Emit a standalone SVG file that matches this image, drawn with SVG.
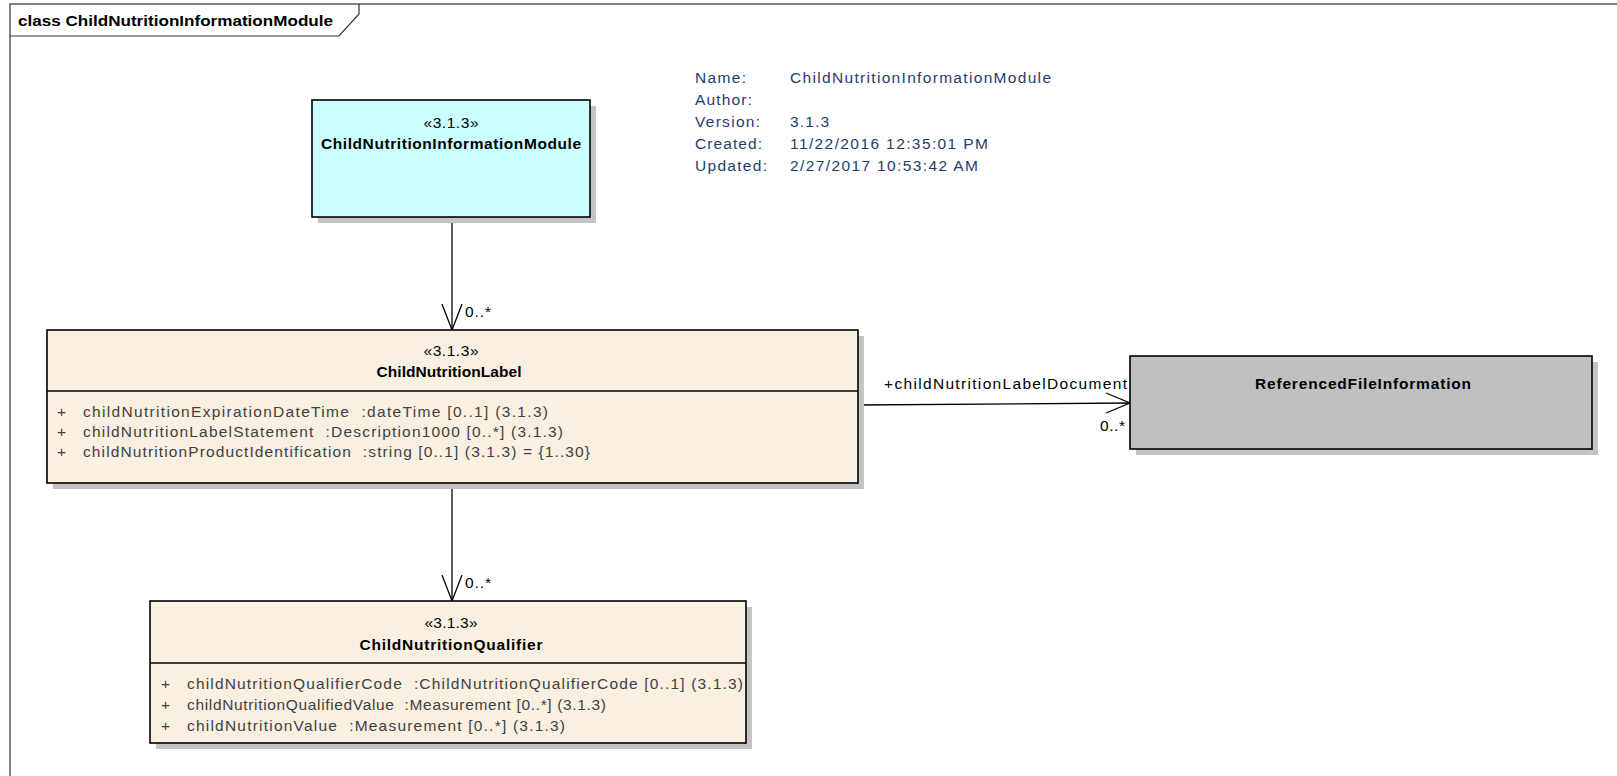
<svg xmlns="http://www.w3.org/2000/svg" width="1617" height="776" viewBox="0 0 1617 776">
<style>
text{font-family:"Liberation Sans",Arial,sans-serif;font-size:15.5px;fill:#000}
.b{font-weight:bold}
.info{fill:#1f3d6b;font-size:15.5px}
.attr{fill:#404040}
.box{stroke:#000;stroke-width:1.6}
.shadow{fill:#c4c4c4}
.conn{stroke:#000;stroke-width:1.3;fill:none}
</style>
<g id="frame">
<rect x="10" y="4" width="1620" height="790" fill="#fff" stroke="#333" stroke-width="1.2"/>
<path d="M10,36 H339 L359,14 V4" fill="none" stroke="#333" stroke-width="1.2"/>
<text x="18" y="26" class="b" textLength="315" lengthAdjust="spacingAndGlyphs">class ChildNutritionInformationModule</text>
</g>
<g id="info">
<text class="info" x="695" y="83" textLength="51">Name:</text>
<text class="info" x="790" y="83" textLength="261">ChildNutritionInformationModule</text>
<text class="info" x="695" y="105" textLength="57">Author:</text>
<text class="info" x="695" y="127" textLength="65">Version:</text>
<text class="info" x="790" y="127" textLength="39">3.1.3</text>
<text class="info" x="695" y="149" textLength="67">Created:</text>
<text class="info" x="790" y="149" textLength="198">11/22/2016 12:35:01 PM</text>
<text class="info" x="695" y="171" textLength="72">Updated:</text>
<text class="info" x="790" y="171" textLength="188">2/27/2017 10:53:42 AM</text>
</g>
<g id="connectors">
<line class="conn" x1="452" y1="217" x2="452" y2="330"/>
<polyline class="conn" points="442,304 452,330 462,304"/>
<text x="465" y="317" textLength="26">0..*</text>
<line class="conn" x1="452" y1="483" x2="452" y2="601"/>
<polyline class="conn" points="442,575 452,601 462,575"/>
<text x="465" y="588" textLength="26">0..*</text>
<line class="conn" x1="858" y1="405" x2="1130" y2="403"/>
<polyline class="conn" points="1106,393 1130,403 1106,413"/>
<text x="884" y="389" textLength="243">+childNutritionLabelDocument</text>
<text x="1100" y="431" textLength="25">0..*</text>
</g>
<g id="ChildNutritionInformationModule">
<rect class="shadow" x="318" y="106" width="278" height="117"/>
<rect class="box" x="312" y="100" width="278" height="117" fill="#ccffff"/>
<text x="451" y="128" text-anchor="middle" textLength="55">«3.1.3»</text>
<text x="451" y="149" text-anchor="middle" class="b" textLength="260">ChildNutritionInformationModule</text>
</g>
<g id="ChildNutritionLabel">
<rect class="shadow" x="53" y="336" width="811" height="153"/>
<rect class="box" x="47" y="330" width="811" height="153" fill="#faf0e1"/>
<text x="451" y="356" text-anchor="middle" textLength="55">«3.1.3»</text>
<text x="449" y="377" text-anchor="middle" class="b" textLength="145">ChildNutritionLabel</text>
<line class="box" x1="47" y1="391" x2="858" y2="391"/>
<text class="attr" x="57" y="417">+</text>
<text class="attr" x="83" y="417" xml:space="preserve" textLength="465">childNutritionExpirationDateTime  :dateTime [0..1] (3.1.3)</text>
<text class="attr" x="57" y="437">+</text>
<text class="attr" x="83" y="437" xml:space="preserve" textLength="480">childNutritionLabelStatement  :Description1000 [0..*] (3.1.3)</text>
<text class="attr" x="57" y="457">+</text>
<text class="attr" x="83" y="457" xml:space="preserve" textLength="507">childNutritionProductIdentification  :string [0..1] (3.1.3) = {1..30}</text>
</g>
<g id="ChildNutritionQualifier">
<rect class="shadow" x="156" y="607" width="596" height="142"/>
<rect class="box" x="150" y="601" width="596" height="142" fill="#faf0e1"/>
<text x="451" y="628" text-anchor="middle" textLength="53">«3.1.3»</text>
<text x="451" y="650" text-anchor="middle" class="b" textLength="183">ChildNutritionQualifier</text>
<line class="box" x1="150" y1="663" x2="746" y2="663"/>
<text class="attr" x="161" y="689">+</text>
<text class="attr" x="187" y="689" xml:space="preserve" textLength="556">childNutritionQualifierCode  :ChildNutritionQualifierCode [0..1] (3.1.3)</text>
<text class="attr" x="161" y="710">+</text>
<text class="attr" x="187" y="710" xml:space="preserve" textLength="419">childNutritionQualifiedValue  :Measurement [0..*] (3.1.3)</text>
<text class="attr" x="161" y="731">+</text>
<text class="attr" x="187" y="731" xml:space="preserve" textLength="378">childNutritionValue  :Measurement [0..*] (3.1.3)</text>
</g>
<g id="ReferencedFileInformation">
<rect class="shadow" x="1136" y="362" width="462" height="93"/>
<rect class="box" x="1130" y="356" width="462" height="93" fill="#c0c0c0"/>
<text x="1363" y="389" text-anchor="middle" class="b" textLength="216">ReferencedFileInformation</text>
</g>
</svg>
